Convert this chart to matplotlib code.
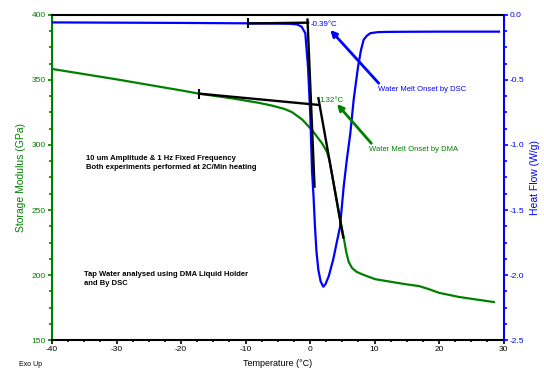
import matplotlib
matplotlib.use("Agg")
from matplotlib import pyplot as plt
from matplotlib.ticker import MultipleLocator, FormatStrFormatter

plt.rcParams['font.family'] = ['Liberation Sans', 'DejaVu Sans']
plt.rcParams['axes.unicode_minus'] = False

# DSC heat flow curve (right axis)
dsc_temp = [-40, -30, -20, -10, -5, -3, -2, -1.3, -0.73, -0.31, 0.05, 0.31, 0.55, 0.77,
            1.0, 1.29, 1.65, 2.06, 2.4, 2.9, 3.6, 4.1, 4.65, 5.22, 5.69, 6.25, 6.77,
            7.44, 7.9, 8.32, 8.8, 9.35, 10.5, 12, 15, 20, 25, 29.3]
dsc_hf = [-0.057, -0.059, -0.061, -0.064, -0.066, -0.068, -0.073, -0.09, -0.14, -0.40,
          -0.78, -1.2, -1.40, -1.63, -1.82, -1.96, -2.05, -2.09, -2.07, -2.01, -1.88,
          -1.76, -1.63, -1.32, -1.12, -0.91, -0.65, -0.40, -0.27, -0.19, -0.16, -0.14,
          -0.132, -0.13, -0.129, -0.128, -0.128, -0.128]

# DMA storage modulus curve (left axis)
dma_temp = [-40, -30, -20, -17.2, -12, -8, -5.9, -4, -2.8, -1.2, 0.31, 1.86, 2.6, 3.0,
            3.5, 4.0, 4.6, 5.2, 5.6, 6.0, 6.5, 7.2, 8.06, 9.0, 10.1, 12.5, 14.7, 16.9,
            18.5, 20.0, 23.1, 26, 28.5]
dma_mod = [358.5, 350.5, 342, 339.5, 335.8, 332.5, 330.3, 327.8, 325.3, 319.5, 311.5,
           301.3, 295, 288.5, 275, 261, 244, 229.5, 218, 210, 205.5, 202.5, 200.6, 198.8,
           196.8, 194.8, 193.0, 191.5, 189.0, 186.3, 183.1, 181, 179.2]

# onset construction lines
dma_base_t = [-17.2, 1.4]
dma_base_v = [339.5, 330.8]
dma_drop_t = [1.3, 5.15]
dma_drop_v = [336.0, 229.0]
dsc_base_t = [-9.6, -0.3]
dsc_base_hf = [-0.065, -0.059]
dsc_drop_t = [-0.39, 0.7]
dsc_drop_hf = [-0.035, -1.32]

green = '#008000'
blue = '#0000ff'

fig = plt.figure(figsize=(5.44, 3.72), dpi=100)
ax = fig.add_axes([0.0956, 0.086, 0.830, 0.8737])
ax2 = ax.twinx()

ax.plot(dma_temp, dma_mod, color=green, lw=1.6, zorder=2)
ax2.plot(dsc_temp, dsc_hf, color=blue, lw=1.6, zorder=2)

# construction lines drawn on ax2 so they sit above both curves
ax2.plot(dsc_base_t, dsc_base_hf, color='black', lw=1.7, zorder=3)
ax2.plot(dsc_drop_t, dsc_drop_hf, color='black', lw=1.7, zorder=3)
ax2.plot(dsc_base_t[:1], dsc_base_hf[:1], marker='|', ms=7, mew=1.5, color='black', zorder=3)
ax2.plot(dma_base_t, dma_base_v, color='black', lw=1.7, zorder=3, transform=ax.transData)
ax2.plot(dma_drop_t, dma_drop_v, color='black', lw=1.7, zorder=3, transform=ax.transData)
ax2.plot(dma_base_t[:1], dma_base_v[:1], marker='|', ms=7, mew=1.5, color='black',
         zorder=3, transform=ax.transData)

ax.set_xlim(-40, 30)
ax.set_ylim(150, 400)
ax2.set_ylim(-2.5, 0.0)

ax.xaxis.set_major_locator(MultipleLocator(10))
ax.xaxis.set_minor_locator(MultipleLocator(2.5))
ax.yaxis.set_major_locator(MultipleLocator(50))
ax.yaxis.set_minor_locator(MultipleLocator(12.5))
ax2.yaxis.set_major_locator(MultipleLocator(0.5))
ax2.yaxis.set_minor_locator(MultipleLocator(0.125))
ax2.yaxis.set_major_formatter(FormatStrFormatter('%.1f'))

for s in ['top', 'bottom']:
    ax.spines[s].set_linewidth(1.5)
    ax.spines[s].set_color('black')
    ax2.spines[s].set_visible(False)
ax.spines['left'].set_linewidth(1.5)
ax.spines['left'].set_color(green)
ax.spines['right'].set_visible(False)
ax2.spines['left'].set_visible(False)
ax2.spines['right'].set_linewidth(1.5)
ax2.spines['right'].set_color(blue)

ax.tick_params(axis='x', which='major', length=3, width=1.2, labelsize=6, pad=1.5, colors='black')
ax.tick_params(axis='x', which='minor', length=1.5, width=1.2, colors='black')
ax.tick_params(axis='y', which='major', length=3, width=1.2, labelsize=6, pad=1.5,
               color=green, labelcolor=green)
ax.tick_params(axis='y', which='minor', length=2, width=1.2, color=green)
ax2.tick_params(axis='y', which='major', length=3, width=1.2, labelsize=6, pad=1.5,
                color=blue, labelcolor=blue)
ax2.tick_params(axis='y', which='minor', length=2, width=1.2, color=blue)

ax.set_xlabel('Temperature (°C)', fontsize=6.5, labelpad=4)
ax.set_ylabel('Storage Modulus (GPa)', fontsize=7.5, color=green, labelpad=4)
ax2.set_ylabel('Heat Flow (W/g)', fontsize=7.5, color=blue, labelpad=4)

ax2.text(0.16, -0.07, '-0.39°C', color=blue, fontsize=5.7, va='center', ha='left', zorder=4)
ax.text(1.4, 334.6, '1.32°C', color=green, fontsize=5.7, va='center', ha='left')
ax2.text(10.54, -0.57, 'Water Melt Onset by DSC', color=blue, fontsize=5.5, va='center', ha='left')
ax.text(9.15, 296.9, 'Water Melt Onset by DMA', color=green, fontsize=5.5, va='center', ha='left')

ax2.annotate('', xy=(3.15, -0.115), xytext=(10.65, -0.525),
             arrowprops=dict(arrowstyle='-|>', color=blue, lw=2.0, mutation_scale=9,
                             shrinkA=0, shrinkB=0))
ax2.annotate('', xy=(4.19, 331.5), xytext=(9.5, 301.3), xycoords=ax.transData,
             textcoords=ax.transData,
             arrowprops=dict(arrowstyle='-|>', color=green, lw=2.0, mutation_scale=9,
                             shrinkA=0, shrinkB=0))

ax.text(-34.7, 286.2, '10 um Amplitude & 1 Hz Fixed Frequency\nBoth experiments performed at 2C/Min heating',
        fontsize=5.5, fontweight='bold', va='center', ha='left', linespacing=1.5)
ax.text(-35.1, 197.0, 'Tap Water analysed using DMA Liquid Holder\nand By DSC',
        fontsize=5.5, fontweight='bold', va='center', ha='left', linespacing=1.35)

fig.text(19 / 544, 1 - 365 / 372, 'Exo Up', fontsize=5, va='center', ha='left')

fig.savefig('out.png', dpi=100)
